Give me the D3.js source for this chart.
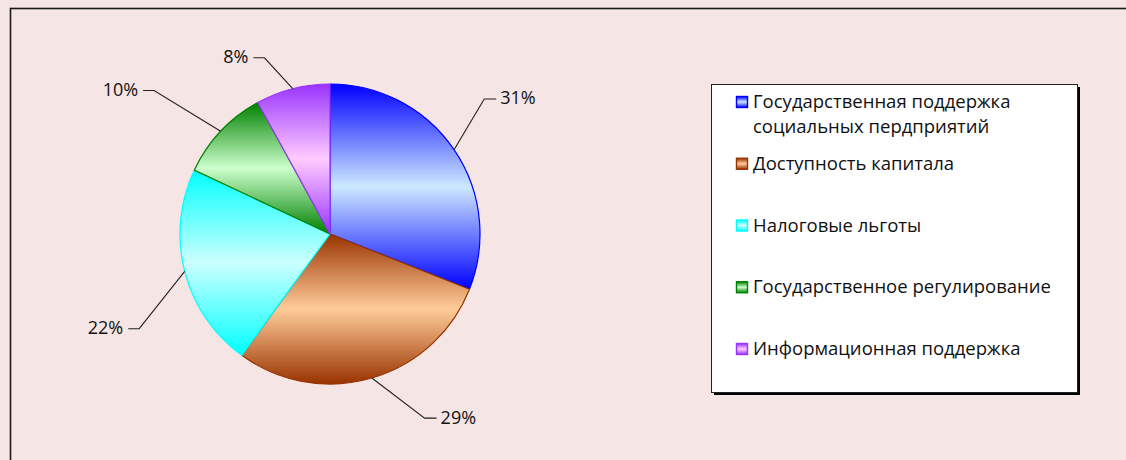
<!DOCTYPE html>
<html>
<head>
<meta charset="utf-8">
<script src="https://cdn.jsdelivr.net/npm/d3@7"></script>
<style>
  html, body { margin: 0; padding: 0; background: #f5e5e5; }
  svg { display: block; }
  text { font-family: "Open Sans", Lato, sans-serif; fill: #111; }
</style>
</head>
<body>
<svg id="chart" width="1126" height="460"></svg>
<script>
// ---- data ----
const categories = [
  "Государственная поддержка социальных пердприятий",
  "Доступность капитала",
  "Налоговые льготы",
  "Государственное регулирование",
  "Информационная поддержка"
];
const legendLines = [
  ["Государственная поддержка", "социальных пердприятий"],
  ["Доступность капитала"],
  ["Налоговые льготы"],
  ["Государственное регулирование"],
  ["Информационная поддержка"]
];
const values = [31, 29, 22, 10, 8];
const darkColors  = ["#0000ff", "#993300", "#00ffff", "#008000", "#9933ff"];
const lightColors = ["#cce9ff", "#ffcc99", "#ccffff", "#ccffcc", "#ffccff"];
// leader elbow placement (layout): angle shift in degrees, radius of elbow
const labelLayout = [
  { da: -7,  r: 205 },
  { da: -11, r: 207 },
  { da: -12, r: 213 },
  { da: -4,  r: 227 },
  { da: -6,  r: 188 }
];

const svg = d3.select("#chart");
const W = 1126, H = 460;

// background + frame
svg.append("rect").attr("x", 0).attr("y", 0).attr("width", W).attr("height", H).attr("fill", "#f5e5e5");
svg.append("rect").attr("x", 10.5).attr("y", 8.5).attr("width", W + 20).attr("height", H + 20)
  .attr("fill", "#f5e5e5").attr("stroke", "#1a1a1a").attr("stroke-width", 1.6);

// gradients
const defs = svg.append("defs");
categories.forEach((c, i) => {
  const g = defs.append("linearGradient").attr("id", "grad" + i)
    .attr("x1", 0).attr("y1", 0).attr("x2", 0).attr("y2", 1);
  g.append("stop").attr("offset", "0%").attr("stop-color", darkColors[i]);
  g.append("stop").attr("offset", "50%").attr("stop-color", lightColors[i]);
  g.append("stop").attr("offset", "100%").attr("stop-color", darkColors[i]);
});

// pie
const cx = 330, cy = 234, R = 150;
const pie = d3.pie().sort(null).value(d => d);
const arcs = pie(values);
const arcGen = d3.arc().innerRadius(0).outerRadius(R);
const g = svg.append("g").attr("transform", `translate(${cx},${cy})`);

g.selectAll("path.slice").data(arcs).join("path")
  .attr("class", "slice")
  .attr("d", arcGen)
  .attr("fill", (d, i) => `url(#grad${i})`)
  .attr("stroke", (d, i) => darkColors[i])
  .attr("stroke-width", 1.2)
  .attr("stroke-linejoin", "round");

// labels with leader lines
const fmt = d3.format(".0%");
const total = d3.sum(values);
arcs.forEach((d, i) => {
  const mid = (d.startAngle + d.endAngle) / 2;
  const p0 = [Math.sin(mid) * R, -Math.cos(mid) * R];
  const a2 = mid + labelLayout[i].da * Math.PI / 180;
  const p1 = [Math.sin(a2) * labelLayout[i].r, -Math.cos(a2) * labelLayout[i].r];
  const right = p1[0] > 0;
  const p2 = [p1[0] + (right ? 12 : -11), p1[1]];
  g.append("polyline")
    .attr("points", [p0, p1, p2].map(p => p.join(",")).join(" "))
    .attr("fill", "none").attr("stroke", "#222").attr("stroke-width", 1.1);
  g.append("text")
    .attr("x", p2[0] + (right ? 4 : -5))
    .attr("y", p2[1])
    .attr("dy", "0.3em")
    .attr("text-anchor", right ? "start" : "end")
    .attr("font-size", 18)
    .text(fmt(d.data / total));
});

// legend
const lx = 711, ly = 84, lw = 366, lh = 308;
svg.append("rect").attr("x", lx + 3).attr("y", ly + 3).attr("width", lw).attr("height", lh).attr("fill", "#000");
svg.append("rect").attr("x", lx + 0.5).attr("y", ly + 0.5).attr("width", lw).attr("height", lh)
  .attr("fill", "#fff").attr("stroke", "#222").attr("stroke-width", 1);

const baseY = d3.scalePoint().domain(d3.range(categories.length)).range([108, 355]);
const lg = svg.append("g");
categories.forEach((c, i) => {
  const by = baseY(i);
  lg.append("rect").attr("x", 736.5).attr("y", by - 11.5).attr("width", 11).attr("height", 11)
    .attr("fill", `url(#grad${i})`).attr("stroke", darkColors[i]).attr("stroke-width", 1.4);
  legendLines[i].forEach((line, j) => {
    lg.append("text").attr("x", 753).attr("y", by + j * 25)
      .attr("font-size", 18.5).text(line);
  });
});
</script>
</body>
</html>
